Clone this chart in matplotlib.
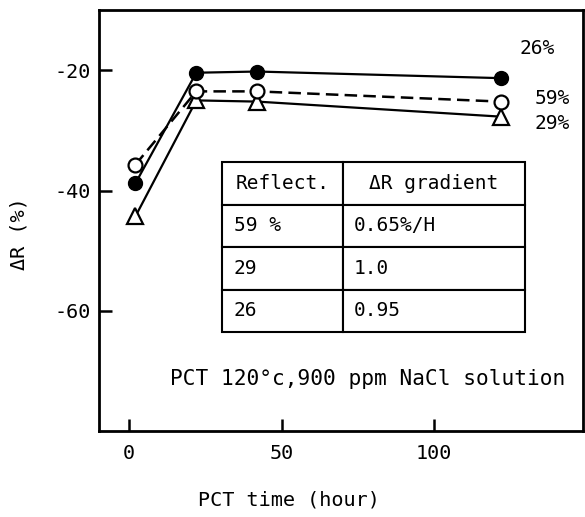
import matplotlib
matplotlib.use('Agg')
import matplotlib.pyplot as plt

plt.rcParams['font.family'] = 'DejaVu Sans Mono'
plt.rcParams['axes.unicode_minus'] = False

# PCT time (hour) and reflectance change for each film
pct_hours = [2, 22, 42, 122]
dr_26 = [-38.8, -20.4, -20.2, -21.3]
dr_59 = [-35.7, -23.5, -23.5, -25.2]
dr_29 = [-44.3, -25.0, -25.2, -27.7]

series_names = ['26%', '59%', '29%']
name_pos = [(134, -16.3), (139, -24.7), (139, -28.9)]

table_header = ['Reflect.', '\u0394R gradient']
table_rows = [['59 %', '0.65%/H'],
              ['29', '1.0'],
              ['26', '0.95']]

x_ticks = [0, 50, 100]
y_ticks = [-20, -40, -60]

fig = plt.figure(figsize=(5.85, 5.17), dpi=100)
ax = fig.add_axes([0.169, 0.166, 0.8274, 0.8143])

ax.plot(pct_hours, dr_26, '-', color='black', lw=1.6, marker='o', ms=10,
        mfc='black', mec='black', zorder=3)
ax.plot(pct_hours, dr_59, color='black', lw=1.8, ls=(0, (5, 2.5)), marker='o',
        ms=10, mfc='white', mec='black', mew=1.6, zorder=4)
ax.plot(pct_hours, dr_29, '-', color='black', lw=1.6, marker='^', ms=11,
        mfc='white', mec='black', mew=1.6, zorder=3)

for name, (px, py) in zip(series_names, name_pos):
    ax.text(px, py, name, fontsize=14, ha='center', va='center')

tbl = ax.table(cellText=table_rows, colLabels=table_header, cellLoc='left',
               colWidths=[0.4, 0.6], bbox=[0.254, 0.235, 0.626, 0.404])
tbl.auto_set_font_size(False)
for (r, c), cell in tbl.get_celld().items():
    cell.set_linewidth(1.5)
    cell.set_edgecolor('black')
    cell.get_text().set_fontsize(14)
    cell.PAD = 0.1 if c == 0 else 0.06
tbl.set_zorder(5)

ax.text(0.147, 0.124, 'PCT 120\u00b0c,900 ppm NaCl solution', fontsize=15.2,
        transform=ax.transAxes, ha='left', va='center')

ax.set_xlim(-10, 149)
ax.set_ylim(-80, -10)
ax.set_xticks(x_ticks)
ax.set_xticklabels([str(v) for v in x_ticks])
ax.set_yticks(y_ticks)
ax.set_yticklabels([str(v) for v in y_ticks])
ax.tick_params(axis='both', direction='in', length=9, width=1.8, labelsize=14.5)
ax.tick_params(axis='x', pad=9)
ax.tick_params(axis='y', pad=6)
for side in ['left', 'bottom', 'top', 'right']:
    ax.spines[side].set_linewidth(2)

ax.set_xlabel('PCT time (hour)', fontsize=14.5)
ax.xaxis.set_label_coords(0.393, -0.14)
ax.set_ylabel('\u0394R (%)', fontsize=14.5)
ax.yaxis.label.set_va('center')
ax.yaxis.set_label_coords(-0.165, 0.47)

fig.savefig('out.png', dpi=100)
